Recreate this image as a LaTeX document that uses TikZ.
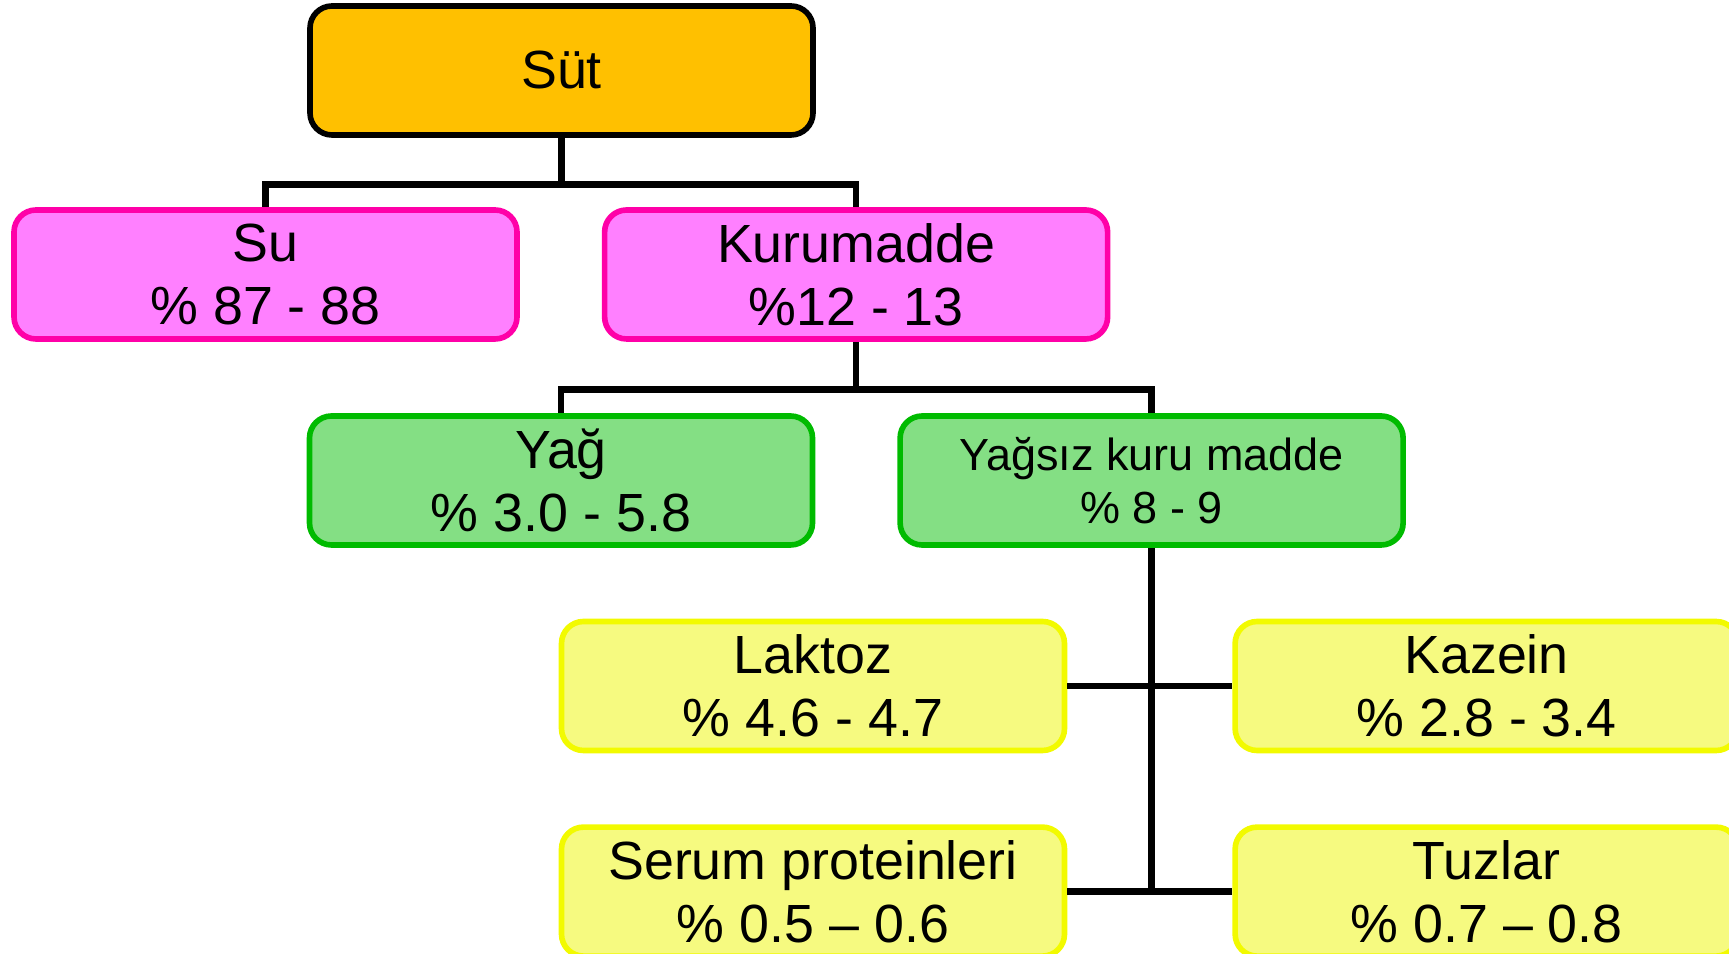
\documentclass[tikz,border=0pt]{standalone}
\usepackage{fontspec}
\setmainfont{Liberation Sans}
\usepackage{tikz}
\usetikzlibrary{positioning,calc}

\definecolor{sutfill}{HTML}{FFC000}
\definecolor{pinkfill}{HTML}{FF80FF}
\definecolor{pinkline}{HTML}{FF00A8}
\definecolor{greenfill}{HTML}{84DF84}
\definecolor{greenline}{HTML}{00BB00}
\definecolor{yellowfill}{HTML}{F6FA80}
\definecolor{yellowline}{HTML}{F2FA00}

\begin{document}
\begin{tikzpicture}[
      block/.style={
        rectangle,
        draw,
        line width=1.6pt,
        minimum width=5.03cm,
        minimum height=1.29cm,
        align=center,
        rounded corners=0.22cm,
        font=\fontsize{15.3pt}{17.9pt}\selectfont
      },
      sutblock/.style={block,fill=sutfill,draw=black},
      pinkblock/.style={block,fill=pinkfill,draw=pinkline},
      greenblock/.style={block,fill=greenfill,draw=greenline},
      yellowblock/.style={block,fill=yellowfill,draw=yellowline},
      link/.style={line width=1.9pt,draw=black}
    ]
    \useasboundingbox (0,0) rectangle (17.29,-9.54);

    % Top level
    \node[sutblock] (sut) at (5.615,-0.705) {Süt};

    % Su and Kurumadde
    \node[pinkblock] (su) at (2.655,-2.745) {Su\\\% 87 - 88};
    \node[pinkblock,right=0.82cm of su] (kuru) {Kurumadde\\\%12 - 13};

    % Yag and Yagsiz kuru madde
    \node[greenblock] (yag) at (5.61,-4.805) {Yağ\\\% 3.0 - 5.8};
    \node[greenblock,right=0.82cm of yag,font=\fontsize{12.8pt}{15.1pt}\selectfont] (yks) {Yağsız kuru madde\\\% 8 - 9};

    % Components of Yagsiz kuru madde
    \node[yellowblock] (laktoz) at (8.13,-6.86) {Laktoz\\\% 4.6 - 4.7};
    \node[yellowblock,right=1.65cm of laktoz] (kazein) {Kazein\\\% 2.8 - 3.4};
    \node[yellowblock,below=0.71cm of laktoz] (serum) {Serum proteinleri\\\% 0.5 -- 0.6};
    \node[yellowblock,below=0.71cm of kazein] (tuzlar) {Tuzlar\\\% 0.7 -- 0.8};

    \coordinate (j1) at ($(sut.south)+(0,-0.47)$);
    \coordinate (j2) at ($(kuru.south)+(0,-0.48)$);

    \draw[link] (sut.south) -- (j1) -| (su.north);
    \draw[link] (j1) -| (kuru.north);
    \draw[link] (kuru.south) -- (j2) -| (yag.north);
    \draw[link] (j2) -| (yks.north);
    \draw[link] (yks.south) -- (yks.south |- serum.east);
    \draw[link] (laktoz.east) -- (kazein.west);
    \draw[link] (serum.east) -- (tuzlar.west);
  \end{tikzpicture}
\end{document}
